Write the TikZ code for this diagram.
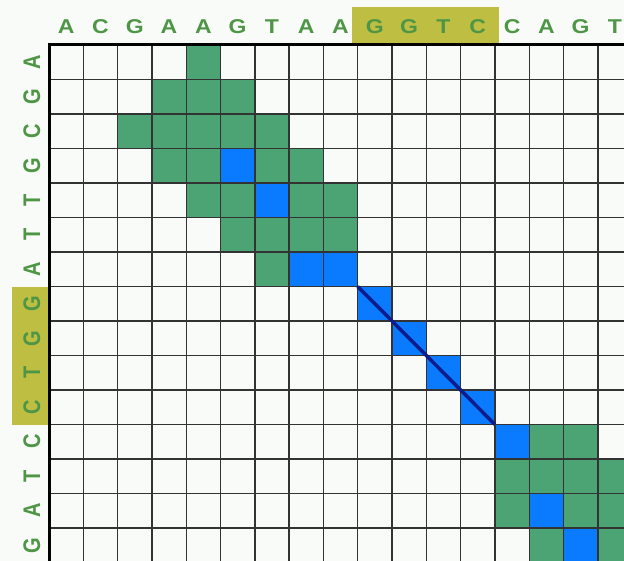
\documentclass[tikz,border=0pt]{standalone}
\usepackage{graphicx}
\usepackage{fontspec}
\setmainfont{Liberation Sans}

\definecolor{bgwhite}{RGB}{248,251,248}
\definecolor{hitgreen}{RGB}{76,164,116}
\definecolor{matchblue}{RGB}{10,123,255}
\definecolor{seqgreen}{RGB}{78,150,70}
\definecolor{markyellow}{RGB}{190,190,66}
\definecolor{diagnavy}{RGB}{12,28,140}

\tikzset{
  base/.style={font=\fontsize{20}{20}\selectfont\bfseries, text=seqgreen, inner sep=0pt},
  hit/.style={fill=hitgreen},
  match/.style={fill=matchblue},
  gridline/.style={draw=black!80, line width=1.4pt},
  border/.style={draw=black, line width=3pt},
  seqmark/.style={fill=markyellow}
}

\begin{document}
\begin{tikzpicture}[x=1pt, y=-1pt]
    \useasboundingbox[fill=bgwhite] (0,0) rectangle (624,561);
    \clip (0,0) rectangle (624,561);

    % the shared word, marked on both sequences
    \fill[seqmark] (352,7) rectangle (499,43);
    \fill[seqmark] (12,287) rectangle (48,425);

    \begin{scope}[shift={(49,45)}, x=34.3pt, y=-34.5pt]
        % sequences
        \foreach \b [count=\i from 0] in {A,C,G,A,A,G,T,A,A,G,G,T,C,C,A,G,T}
            \node[base] (top-\i) at (\i+0.5,-0.54) {\scalebox{1.15}[1]{\b}};
        \foreach \b [count=\i from 0] in {A,G,C,G,T,T,A,G,G,T,C,C,T,A,G}
            \node[base, rotate=90] (left-\i) at (-0.5,\i+0.5) {\scalebox{1}[1.2]{\b}};

        % window hits
        \foreach \c/\r in {4/0, 3/1,4/1,5/1, 2/2,3/2,4/2,5/2,6/2,
                           3/3,4/3,6/3,7/3, 4/4,5/4,7/4,8/4,
                           5/5,6/5,7/5,8/5, 6/6,
                           14/11,15/11, 13/12,14/12,15/12,16/12,
                           13/13,15/13,16/13, 14/14,16/14}
            \fill[hit] (\c,\r) rectangle ++(1,1);
        % exact matches
        \foreach \c/\r in {5/3, 6/4, 7/6,8/6, 9/7, 10/8, 11/9, 12/10,
                           13/11, 14/13, 15/14}
            \fill[match] (\c,\r) rectangle ++(1,1);

        \foreach \c in {1,...,17}
            \draw[gridline] (\c,0) -- (\c,15.2);
        \foreach \r in {1,...,15}
            \draw[gridline] (0,\r) -- (17.2,\r);
        \draw[border] (0,15.2) -- (0,0) -- (17.2,0);

        \coordinate (start) at (9,7);
        \coordinate (stop) at (13,11);
        \draw[diagnavy, line width=3.5pt] (start) -- (stop);
    \end{scope}
\end{tikzpicture}
\end{document}
